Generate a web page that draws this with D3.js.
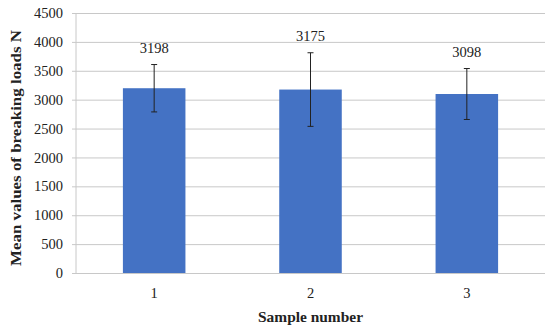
<!DOCTYPE html>
<html>
<head>
<meta charset="utf-8">
<script src="https://cdn.jsdelivr.net/npm/d3@7"></script>
<style>
  body { margin: 0; background: #fff; }
  text { font-family: "Liberation Serif", "DejaVu Serif", serif; }
</style>
</head>
<body>
<script>
/* Chart data */
var samples = ["1", "2", "3"];
var means = [3198, 3175, 3098];
var errors = [410, 637, 441];
var yTicks = [0, 500, 1000, 1500, 2000, 2500, 3000, 3500, 4000, 4500];

var W = 550, H = 329;
var m = { left: 76, right: 5, top: 13, bottom: 56 };

var svg = d3.select("body").append("svg")
    .attr("width", W)
    .attr("height", H);

var x = d3.scaleBand()
    .domain(samples)
    .range([m.left, W - m.right])
    .paddingInner(0.6)
    .paddingOuter(0.3);

var y = d3.scaleLinear()
    .domain([0, 4500])
    .range([H - m.bottom, m.top]);

/* Gridlines + y tick labels */
var yAxis = svg.append("g")
    .attr("transform", "translate(" + m.left + ",0)")
    .call(d3.axisLeft(y).tickValues(yTicks).tickFormat(d3.format("d"))
      .tickSize(-(W - m.left - m.right)).tickPadding(13));
yAxis.select(".domain").remove();
yAxis.selectAll(".tick line")
    .attr("stroke", "#c8c8c8")
    .attr("x1", -4);
yAxis.selectAll(".tick text")
    .attr("font-size", 14.5)
    .attr("fill", "#222");

/* left axis line */
svg.append("line")
    .attr("x1", m.left).attr("x2", m.left)
    .attr("y1", y(4500)).attr("y2", y(0))
    .attr("stroke", "#c8c8c8");

/* Bars */
var data = samples.map(function(s, i) {
  return { s: s, v: means[i], e: errors[i] };
});

svg.selectAll(".bar")
    .data(data)
  .enter().append("rect")
    .attr("class", "bar")
    .attr("x", function(d) { return x(d.s); })
    .attr("width", x.bandwidth())
    .attr("y", function(d) { return y(d.v); })
    .attr("height", function(d) { return y(0) - y(d.v); })
    .attr("fill", "#4472c4");

/* Error bars */
var eb = svg.selectAll(".err")
    .data(data)
  .enter().append("g")
    .attr("class", "err")
    .attr("stroke", "#222")
    .attr("stroke-width", 1);
eb.append("line")
    .attr("x1", function(d) { return x(d.s) + x.bandwidth() / 2; })
    .attr("x2", function(d) { return x(d.s) + x.bandwidth() / 2; })
    .attr("y1", function(d) { return y(d.v + d.e); })
    .attr("y2", function(d) { return y(d.v - d.e); });
[1, -1].forEach(function(sign) {
  eb.append("line")
      .attr("x1", function(d) { return x(d.s) + x.bandwidth() / 2 - 3; })
      .attr("x2", function(d) { return x(d.s) + x.bandwidth() / 2 + 3; })
      .attr("y1", function(d) { return y(d.v + sign * d.e); })
      .attr("y2", function(d) { return y(d.v + sign * d.e); });
});

/* Value labels */
svg.selectAll(".lbl")
    .data(data)
  .enter().append("text")
    .attr("class", "lbl")
    .attr("x", function(d) { return x(d.s) + x.bandwidth() / 2; })
    .attr("y", function(d) { return y(d.v + d.e) - 12; })
    .attr("text-anchor", "middle")
    .attr("font-size", 14.5)
    .attr("fill", "#222")
    .text(function(d) { return d.v; });

/* X tick labels */
svg.selectAll(".xl")
    .data(samples)
  .enter().append("text")
    .attr("class", "xl")
    .attr("x", function(d) { return x(d) + x.bandwidth() / 2; })
    .attr("y", 298)
    .attr("text-anchor", "middle")
    .attr("font-size", 14.5)
    .attr("fill", "#222")
    .text(function(d) { return d; });

/* Axis titles */
svg.append("text")
    .attr("x", (m.left + W - m.right) / 2)
    .attr("y", 322)
    .attr("text-anchor", "middle")
    .attr("font-size", 15)
    .attr("font-weight", "bold")
    .attr("fill", "#222")
    .attr("textLength", 105)
    .attr("lengthAdjust", "spacingAndGlyphs")
    .text("Sample number");

svg.append("text")
    .attr("transform", "translate(21,148) rotate(-90)")
    .attr("text-anchor", "middle")
    .attr("font-size", 15)
    .attr("font-weight", "bold")
    .attr("fill", "#222")
    .attr("textLength", 236)
    .attr("lengthAdjust", "spacingAndGlyphs")
    .text("Mean values of breaking loads N");
</script>
</body>
</html>
